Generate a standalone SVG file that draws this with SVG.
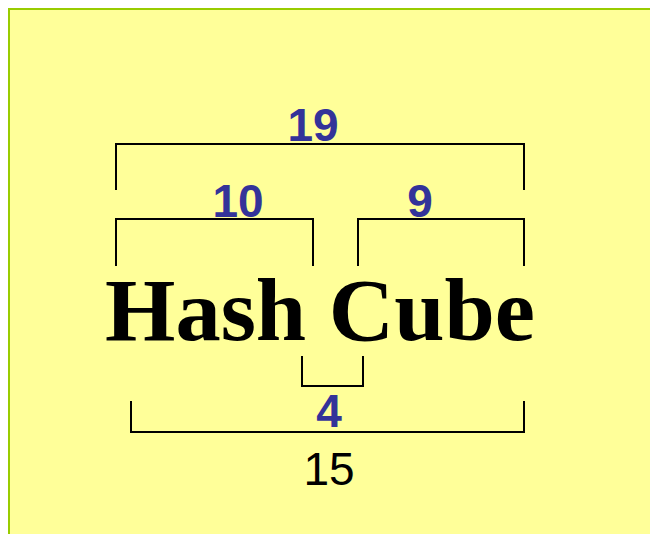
<svg xmlns="http://www.w3.org/2000/svg" width="650" height="534" viewBox="0 0 650 534">
<style>
.br{fill:none;stroke:#000;stroke-width:2}
.num{font-family:"Liberation Sans",Arial,sans-serif;font-weight:bold;font-size:46px;fill:#333399;text-anchor:middle}
.plain{font-family:"Liberation Sans",Arial,sans-serif;font-size:46px;fill:#000;text-anchor:middle}
.title{font-family:"Liberation Serif","Times New Roman",serif;font-weight:bold;font-size:88px;fill:#000}
</style>
<rect x="0" y="0" width="650" height="534" fill="#ffffff"/>
<rect x="9" y="9" width="660" height="560" fill="#ffff99" stroke="#99cc00" stroke-width="2"/>
<g id="connectors">
<path class="br" d="M116,190 V144 H524 V190"/>
<path class="br" d="M116,266 V219 H313 V266"/>
<path class="br" d="M358,266 V219 H524 V266"/>
<path class="br" d="M302,356 V386 H363 V356"/>
<path class="br" d="M131,401 V432 H524 V401"/>
</g>
<g id="title"><text class="title" x="105" y="340" textLength="430" lengthAdjust="spacingAndGlyphs">Hash Cube</text></g>
<g id="n19"><text class="num" x="313" y="141">19</text></g>
<g id="n10"><text class="num" x="238" y="217">10</text></g>
<g id="n9"><text class="num" x="420" y="217">9</text></g>
<g id="n4"><text class="num" x="329" y="427">4</text></g>
<g id="n15"><text class="plain" x="329" y="485">15</text></g>
</svg>
